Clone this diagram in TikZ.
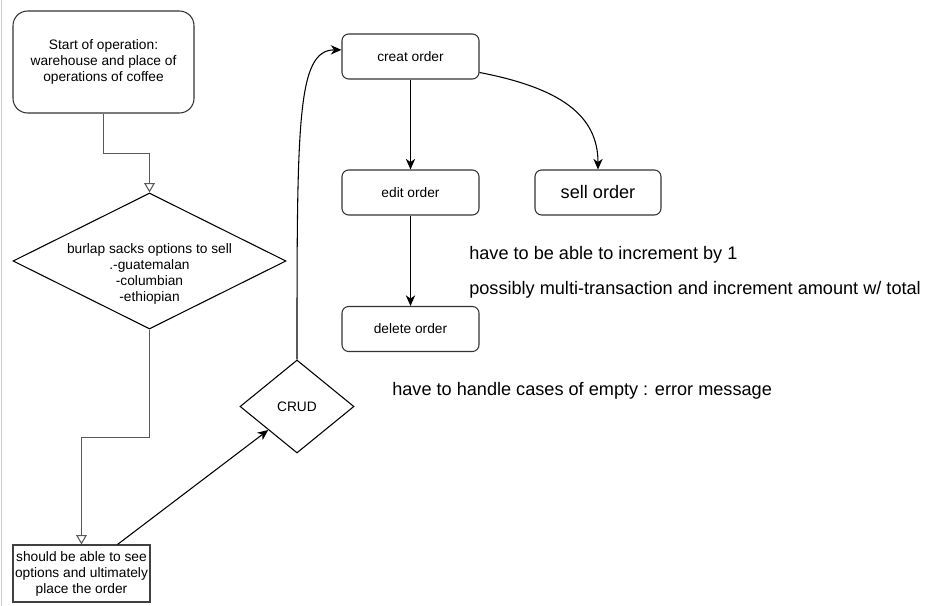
\documentclass[tikz,border=0pt]{standalone}
\usepackage{fontspec}
\setmainfont{Liberation Sans}
\usetikzlibrary{shapes.geometric,arrows.meta,calc}
\tikzset{
  every node/.style={font=\fontsize{10.3pt}{12pt}\selectfont},
  box/.style={draw=black!80, line width=0.8pt, rounded corners=5pt, minimum width=102.75pt, minimum height=33.75pt, inner sep=0pt},
  sqbox/.style={draw=black!75, line width=0.8pt, minimum width=102.75pt, minimum height=42.75pt, inner sep=0pt, align=center},
  dshape/.style={draw=black, line width=0.8pt, diamond, inner sep=0pt},
  conn/.style={line width=0.8pt, -{Stealth[length=8pt,width=7pt,inset=2.5pt]}},
  openconn/.style={draw=black!65, line width=0.8pt, -{Triangle[open,length=7pt,width=8pt]}},
  note/.style={anchor=west, inner sep=0pt, font=\fontsize{13.6pt}{15pt}\selectfont},
}
\begin{document}
\begin{tikzpicture}[x=0.75pt,y=-0.75pt]
\useasboundingbox (0,0) rectangle (935,606);
\draw[black!20, line width=0.75pt] (1,0) -- (1,606);

\node[box, rounded corners=11pt, minimum width=135.75pt, minimum height=76.5pt, align=center] (start) at (103.5,62) {Start of operation:\\warehouse and place of\\operations of coffee};

\node[dshape, minimum width=204.75pt, minimum height=102pt] (d) at (149.5,261) {};
\node[align=center, inner sep=0pt] (dtext) at (149.5,274) {burlap sacks options to sell\\.-guatemalan\\-columbian\\-ethiopian};

\node[sqbox] (bot) at (81.5,573.5) {should be able to see\\options and ultimately\\place the order};

\node[dshape, minimum width=85.5pt, minimum height=69.75pt] (crud) at (297,406.5) {};
\node[inner sep=0pt] (crudtext) at (297,406.5) {CRUD};

\node[box] (creat) at (410.5,56.5) {creat order};
\node[box] (edit) at (410.5,192.5) {edit order};
\node[box] (delete) at (410.5,329) {delete order};
\node[box, minimum width=94.5pt, font=\fontsize{13.6pt}{15pt}\selectfont] (sell) at (598,192.5) {sell order};

\node[note] (n1) at (469,255) {have to be able to increment by 1};
\node[note] (n2) at (469,290) {possibly multi-transaction and increment amount w/ total};
\node[note] (n3) at (392,391) {have to handle cases of empty : error message};

\draw[openconn] (start.south) -- ++(0,40) -| (d.north);
\draw[openconn] (d.south) -- ++(0,108) -| (bot.north);
\draw[conn] ([xshift=27pt]bot.north) -- ($(crud.west)!0.5!(crud.south)$);
\draw[conn] (crud.north) .. controls (297,120) and (297,50) .. ([yshift=5pt]creat.west);
\draw[conn] (creat.south) -- (edit.north);
\draw[conn] (edit.south) -- (delete.north);
\draw[conn] ([yshift=-12pt]creat.east) .. controls (560,88) and (598,115) .. (sell.north);
\end{tikzpicture}
\end{document}
